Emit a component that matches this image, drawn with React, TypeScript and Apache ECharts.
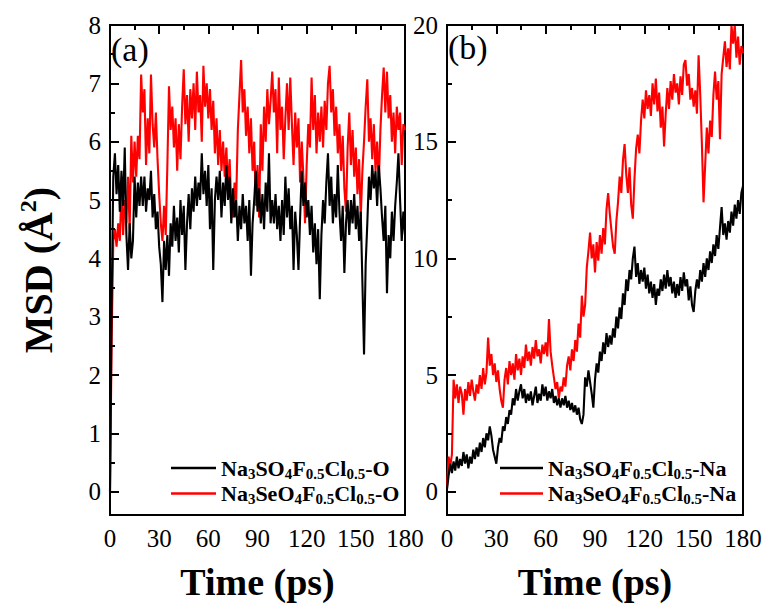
import { useEffect, useRef } from 'react';
import * as echarts from 'echarts';

// time axis (ps), one sample per picosecond
const timePs: number[] = Array.from({ length: 181 }, (_, i) => i);

// (a) oxygen MSD
const msdOxygenS: number[] = [
  0, 3.2, 5.4, 5.8, 5.1, 5.6, 4.8, 5.5, 4.9, 5.9,
  4.4, 3.8, 4.6, 4.0, 4.3, 5.4, 4.7, 5.3, 4.9, 5.4,
  4.9, 5.4, 4.8, 5.2, 5.0, 5.5, 4.7, 5.1, 4.5, 4.8,
  4.2, 3.9, 3.25, 4.3, 3.8, 4.4, 3.7, 4.6, 4.2, 4.9,
  4.3, 4.7, 4.1, 5.0, 4.4, 4.9, 3.8, 4.6, 5.1, 4.5,
  5.2, 4.8, 5.4, 4.9, 5.3, 5.0, 5.8, 5.1, 5.5, 4.9,
  5.6, 4.5, 5.2, 3.8, 5.0, 5.4, 5.0, 5.5, 4.7, 5.3,
  4.9, 5.6, 5.0, 5.4, 4.6, 5.2, 4.7, 5.0, 4.3, 4.9,
  4.5, 5.1, 4.6, 4.9, 4.3, 5.0, 3.7, 4.6, 5.0, 5.5,
  4.8, 5.2, 4.6, 5.1, 4.5, 5.3, 4.8, 5.8, 4.6, 5.0,
  4.6, 5.1, 4.5, 4.9, 4.3, 5.0, 4.4, 5.4, 4.7, 5.2,
  4.5, 4.9, 3.8, 4.8, 4.4, 3.8, 4.7, 5.5, 4.9, 5.3,
  4.7, 5.0, 4.4, 4.9, 4.1, 4.6, 3.9, 4.5, 3.3, 4.4,
  5.0, 4.6, 5.3, 5.8, 4.9, 5.4, 4.6, 5.1, 4.7, 5.6,
  4.8, 4.3, 4.9, 3.75, 4.6, 5.0, 4.4, 5.0, 4.6, 5.1,
  4.5, 4.9, 4.3, 4.8, 3.6, 2.35, 3.9, 4.6, 5.4, 5.0,
  5.6, 5.2, 5.5, 4.9, 5.6, 5.2, 4.7, 4.3, 4.9, 3.4,
  4.4, 4.0, 4.8, 4.3, 4.9, 5.3, 5.8, 5.0, 4.3, 4.8,
  4.4,
];
const msdOxygenSe: number[] = [
  0, 2.6, 4.3, 4.5, 4.2, 4.6, 4.3, 5.2, 4.4, 5.0,
  4.6, 5.4, 4.5, 6.1, 5.3, 6.0, 5.4, 6.1, 5.7, 7.15,
  6.5, 6.9, 5.6, 6.4, 5.8, 7.15, 6.3, 5.9, 6.5, 5.7,
  5.1, 4.6, 4.3, 4.9, 4.4, 5.6, 6.95, 6.2, 6.6, 5.9,
  6.4, 5.5, 6.3, 5.7, 6.6, 7.24, 6.3, 6.8, 6.0, 6.9,
  6.4, 7.0, 6.2, 7.2, 6.5, 6.8, 6.0, 7.3, 6.6, 7.0,
  6.4, 6.9, 6.2, 6.7, 5.8, 6.4, 5.6, 6.2, 5.5, 6.0,
  5.4, 5.9, 5.2, 5.7, 4.9, 4.7, 5.3, 5.0, 6.2, 6.8,
  7.4, 6.5, 6.9, 6.1, 6.6, 5.8, 6.4, 5.5, 6.0, 4.9,
  5.6, 4.7, 6.3, 5.5, 6.6, 6.0, 6.9, 6.3, 6.7, 7.2,
  6.5, 6.9, 5.8, 7.1, 6.2, 6.6, 5.7, 6.4, 7.0, 6.2,
  7.1, 6.3, 5.6, 6.5, 5.9, 6.4, 5.3, 6.0, 5.4, 4.6,
  5.6, 6.3, 5.9, 7.1, 6.2, 6.8, 5.8, 6.5, 6.0, 6.6,
  5.9, 6.7, 6.2, 7.0, 7.3, 6.5, 6.9, 6.1, 6.6, 5.8,
  6.3, 5.5, 6.1, 5.2, 4.8, 5.9, 6.5, 5.6, 6.2, 5.4,
  5.9, 5.1, 5.7, 4.7, 5.5, 6.0, 6.6, 7.07, 6.0, 6.4,
  5.7, 6.3, 5.5, 6.0, 5.3, 6.2, 6.8, 7.27, 6.5, 7.2,
  6.4, 6.8, 6.0, 6.5, 5.8, 6.6, 6.2, 6.5, 5.6, 6.3,
  6.2,
];

// (b) sodium MSD
const msdSodiumS: number[] = [
  0.1, 0.7, 1.2, 0.8, 1.3, 0.9, 1.5, 1.0, 1.4, 1.1,
  1.7, 1.2, 1.6, 1.0, 1.5, 1.2, 1.8, 1.4, 1.9, 1.5,
  2.1, 1.7, 2.3, 1.9, 2.5, 2.2, 2.8, 2.4, 1.8, 1.5,
  1.2, 1.9, 2.3, 2.1, 2.8, 2.6, 3.2, 2.9, 3.5, 3.3,
  4.0, 3.7, 4.4, 3.9, 4.3, 4.6, 4.0, 4.4, 3.8, 4.2,
  3.9, 4.3, 3.7, 4.1, 4.5, 3.8, 4.2, 3.9, 4.6, 4.1,
  4.5, 3.9, 4.3, 4.0, 4.4, 3.8, 4.1, 3.7, 4.0, 3.6,
  4.0, 3.7, 4.1, 3.6, 3.9, 3.5, 3.8, 3.4, 3.7, 3.3,
  3.6, 3.1, 2.9, 3.3, 4.9, 4.5, 5.2, 4.7, 4.2, 3.6,
  4.8, 5.5, 5.1, 6.0, 5.6, 6.4, 5.9, 6.8, 6.2, 6.7,
  6.3, 7.0, 6.6, 7.5, 7.0, 7.9, 7.4, 8.5, 8.0, 9.1,
  8.6, 9.5, 9.1, 10.0, 10.5, 9.2, 9.8, 8.9, 9.5, 9.0,
  9.6, 8.7, 9.3, 8.5, 9.0, 8.3, 8.9, 8.0, 8.7, 8.4,
  9.1, 8.6, 9.3, 8.7, 9.5, 8.8, 9.2, 8.5, 9.0, 8.3,
  8.9, 8.4, 9.2, 8.6, 9.4, 8.8, 9.1, 8.2, 8.8, 8.0,
  7.7, 8.6, 9.1, 8.7, 9.5, 9.0, 9.8, 9.2, 10.0, 9.5,
  10.3, 9.8, 10.6, 10.1, 11.0, 10.4, 11.3, 12.2, 11.0, 11.5,
  10.8, 11.6, 11.1, 12.0, 11.4, 12.3, 11.7, 12.5, 11.9, 12.8,
  13.1,
];
const msdSodiumSe: number[] = [
  0.2, 1.5, 1.1, 1.6, 4.8, 4.0, 4.6, 3.8, 4.5, 4.2,
  3.3, 4.4, 3.9, 4.7, 4.1, 4.8, 4.3, 3.9, 4.6, 4.2,
  5.0, 4.4, 5.3, 4.6, 5.1, 6.6, 5.4, 5.9, 5.0, 5.5,
  4.7, 5.2, 4.4, 3.9, 3.6, 4.8, 5.3, 4.6, 5.6, 5.0,
  5.5, 4.8, 5.9, 5.2, 5.7, 5.0, 5.8, 5.3, 6.3, 5.6,
  6.0, 5.4, 6.2, 5.7, 6.5, 5.8, 6.1, 5.5, 6.3, 5.9,
  6.4, 5.8, 7.4, 6.0, 5.4, 4.9, 4.4, 4.7, 4.0, 4.5,
  4.3, 4.9, 4.5, 5.4, 5.8, 5.2, 6.1, 5.6, 6.5, 6.0,
  7.2, 6.6, 8.4, 7.5, 8.0, 9.6, 10.3, 11.1, 10.0, 10.6,
  9.4, 10.7, 9.9, 11.0, 10.2, 11.3, 10.6, 12.1, 12.8, 11.9,
  11.2, 10.5, 10.2, 11.6, 12.4, 13.5, 12.8, 14.2, 14.9, 13.6,
  12.8, 13.9, 12.3, 11.7, 13.4, 14.7, 15.3, 14.5, 15.9, 16.8,
  16.0, 17.2, 16.4, 17.0, 16.1, 17.5, 16.6, 17.7, 16.3, 17.1,
  15.6, 16.5, 14.8, 16.2, 17.3, 16.4, 17.6, 16.8, 17.9, 17.1,
  17.5, 16.6, 17.8, 17.0, 18.3, 18.5, 17.4, 17.9, 16.8, 17.3,
  16.5, 17.2, 16.2, 18.7, 17.0, 14.9, 12.4, 14.0, 15.6, 14.5,
  15.9, 15.2, 17.0, 18.0, 16.8, 17.6, 15.1, 17.9, 18.6, 19.3,
  18.2, 19.0, 18.1, 20.0, 19.2, 20.0, 18.6, 19.5, 18.3, 19.1,
  18.8,
];

// legend labels: alternating normal / subscript fragments
const legendParts: Record<string, string[]> = {
  'Na3SO4F0.5Cl0.5-O': ['Na', '3', 'SO', '4', 'F', '0.5', 'Cl', '0.5', '-O'],
  'Na3SeO4F0.5Cl0.5-O': ['Na', '3', 'SeO', '4', 'F', '0.5', 'Cl', '0.5', '-O'],
  'Na3SO4F0.5Cl0.5-Na': ['Na', '3', 'SO', '4', 'F', '0.5', 'Cl', '0.5', '-Na'],
  'Na3SeO4F0.5Cl0.5-Na': ['Na', '3', 'SeO', '4', 'F', '0.5', 'Cl', '0.5', '-Na'],
};
const seriesNames = Object.keys(legendParts);

const xTicks = [0, 30, 60, 90, 120, 150, 180];
const yTicksA = [0, 1, 2, 3, 4, 5, 6, 7, 8];
const yMinorA = [0.5, 1.5, 2.5, 3.5, 4.5, 5.5, 6.5, 7.5];
const yTicksB = [0, 5, 10, 15, 20];
const yMinorB = [2.5, 7.5, 12.5, 17.5];

const FONT = '"Liberation Serif", "Times New Roman", serif';
const BLACK = '#000000';
const RED = '#ff0000';
const AXW = 2;

function pairs(values: number[]) {
  return values.map((v, i) => [timePs[i], v]);
}

function legendFormatter(name: string) {
  const parts = legendParts[name] || [name];
  return parts.map((p, i) => (i % 2 === 0 ? `{n|${p}}` : `{s|${p}}`)).join('');
}

const legendRich = {
  n: { fontFamily: FONT, fontWeight: 'bold', fontSize: 22, lineHeight: 26, color: BLACK },
  s: { fontFamily: FONT, fontWeight: 'bold', fontSize: 15, lineHeight: 18, verticalAlign: 'bottom', color: BLACK },
};

// x axis carrying labels and title
function xAxisLabels(gridIndex: number) {
  return {
    type: 'value',
    gridIndex,
    min: xTicks[0],
    max: xTicks[xTicks.length - 1],
    interval: 30,
    axisLine: { show: true, onZero: false, lineStyle: { color: BLACK, width: AXW } },
    axisTick: { show: false },
    axisLabel: { fontFamily: FONT, fontSize: 25, color: BLACK, margin: 11 },
    splitLine: { show: false },
    name: 'Time (ps)',
    nameLocation: 'middle',
    nameGap: 48,
    nameTextStyle: { fontFamily: FONT, fontWeight: 'bold', fontSize: 38, color: BLACK },
  };
}

// x axis carrying the inward major and minor ticks
function xAxisTicks(gridIndex: number) {
  return {
    type: 'value',
    gridIndex,
    min: xTicks[0],
    max: xTicks[xTicks.length - 1],
    interval: 30,
    axisLine: { show: true, onZero: false, lineStyle: { color: BLACK, width: AXW } },
    axisTick: { show: true, inside: true, length: 9, lineStyle: { color: BLACK, width: AXW } },
    minorTick: { show: true, splitNumber: 2, length: 5, lineStyle: { color: BLACK, width: AXW } },
    axisLabel: { show: false },
    splitLine: { show: false },
    z: 4,
  };
}

function yAxisLabels(gridIndex: number, min: number, max: number, ticks: number[], withName: boolean) {
  return {
    type: 'value',
    gridIndex,
    min,
    max,
    axisLine: { show: true, lineStyle: { color: BLACK, width: AXW } },
    axisTick: { show: false },
    axisLabel: { customValues: ticks, fontFamily: FONT, fontSize: 25, color: BLACK, margin: 9 },
    splitLine: { show: false },
    name: withName ? '{b|MSD (Å}{p|2}{b|)}' : '',
    nameLocation: 'middle',
    nameGap: 50,
    nameTextStyle: {
      rich: {
        b: { fontFamily: FONT, fontWeight: 'bold', fontSize: 40, lineHeight: 44, color: BLACK },
        p: { fontFamily: FONT, fontWeight: 'bold', fontSize: 24, lineHeight: 26, verticalAlign: 'top', color: BLACK },
      },
    },
  };
}

function yAxisTicks(gridIndex: number, min: number, max: number, ticks: number[], len: number) {
  return {
    type: 'value',
    gridIndex,
    position: 'left',
    offset: 0,
    min,
    max,
    axisLine: { show: false },
    axisTick: { show: true, inside: true, length: len, customValues: ticks, lineStyle: { color: BLACK, width: AXW } },
    axisLabel: { show: false },
    splitLine: { show: false },
    z: 4,
  };
}

function lineSeries(name: string, values: number[], color: string, xAxisIndex: number, yAxisIndex: number, z: number) {
  return {
    type: 'line',
    name,
    xAxisIndex,
    yAxisIndex,
    data: pairs(values),
    showSymbol: false,
    symbol: 'none',
    lineStyle: { color, width: 2.1 },
    itemStyle: { color },
    z,
  };
}

export default function App() {
  const ref = useRef<HTMLDivElement>(null);

  useEffect(() => {
    if (!ref.current) return;
    const chart = echarts.init(ref.current, undefined, { renderer: 'svg' });
    chart.setOption({
      animation: false,
      grid: [
        { left: 110, top: 25, width: 295, height: 490, show: true, borderColor: BLACK, borderWidth: AXW },
        { left: 447, top: 25, width: 296, height: 490, show: true, borderColor: BLACK, borderWidth: AXW },
      ],
      xAxis: [xAxisLabels(0), xAxisLabels(1), xAxisTicks(0), xAxisTicks(1)],
      yAxis: [
        yAxisLabels(0, -0.4, 8, yTicksA, true),
        yAxisLabels(1, -1, 20, yTicksB, false),
        yAxisTicks(0, -0.4, 8, yTicksA, 9),
        yAxisTicks(0, -0.4, 8, yMinorA, 5),
        yAxisTicks(1, -1, 20, yTicksB, 9),
        yAxisTicks(1, -1, 20, yMinorB, 5),
      ],
      legend: [
        {
          data: [seriesNames[0], seriesNames[1]],
          orient: 'vertical',
          left: 166,
          top: 452,
          itemWidth: 45,
          itemHeight: 2.5,
          itemGap: 1.6,
          icon: 'rect',
          selectedMode: false,
          formatter: legendFormatter,
          textStyle: { rich: legendRich },
        },
        {
          data: [seriesNames[2], seriesNames[3]],
          orient: 'vertical',
          left: 495,
          top: 452,
          itemWidth: 43,
          itemHeight: 2.5,
          itemGap: 1.6,
          icon: 'rect',
          selectedMode: false,
          formatter: legendFormatter,
          textStyle: { rich: legendRich },
        },
      ],
      graphic: [
        { type: 'text', left: 111, top: 32, style: { text: '(a)', fontFamily: FONT, fontSize: 34, fill: BLACK } },
        { type: 'text', left: 448, top: 30, style: { text: '(b)', fontFamily: FONT, fontSize: 34, fill: BLACK } },
      ],
      series: [
        lineSeries(seriesNames[1], msdOxygenSe, RED, 0, 0, 2),
        lineSeries(seriesNames[0], msdOxygenS, BLACK, 0, 0, 3),
        lineSeries(seriesNames[3], msdSodiumSe, RED, 1, 1, 2),
        lineSeries(seriesNames[2], msdSodiumS, BLACK, 1, 1, 3),
      ],
    });
    return () => chart.dispose();
  }, []);

  return (
    <div
      ref={ref}
      style={{ position: 'fixed', left: 0, top: 0, width: 769, height: 608, background: '#fff' }}
    />
  );
}
